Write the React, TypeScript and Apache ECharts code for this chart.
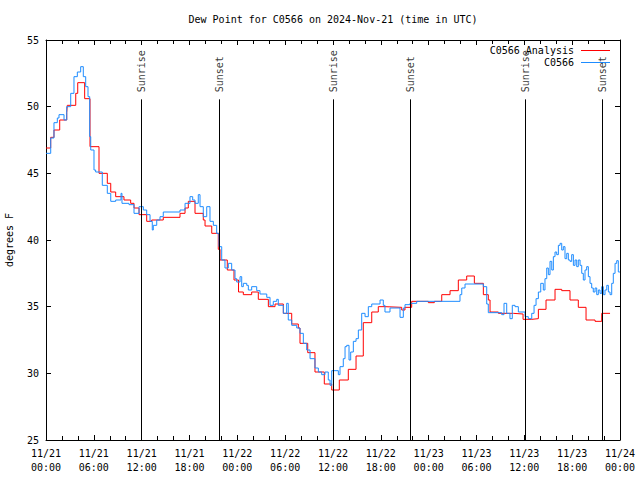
import React, { useEffect, useRef } from 'react';
import * as echarts from 'echarts';

// hours since 2024-11-21 00:00 UTC
const obsHours = [
  0, 0.59, 1.0, 1.42, 1.63, 2.26, 2.6, 3.1, 3.51, 3.93, 4.35, 4.68, 4.98, 5.27, 5.48, 5.61, 6.02, 6.23, 7.06, 7.69,
  8.12, 8.74, 9.41, 9.53, 10.41, 11.04, 11.67, 12.21, 12.63, 13.05, 13.33, 13.46, 13.89, 14.3, 14.71, 16.81, 17.44,
  18.06, 18.4, 18.69, 19.1, 19.32, 19.73, 20.16, 20.57, 20.99, 21.41, 21.7, 22.04, 22.45, 22.87, 23.29, 23.71, 23.92,
  24.34, 24.55, 24.75, 25.18, 25.38, 25.8, 26.43, 26.84, 27.69, 28.1, 28.51, 28.94, 29.14, 29.77, 30.19, 30.39, 30.82,
  31.45, 31.86, 32.28, 32.7, 33.12, 33.74, 34.16, 34.58, 35.0, 35.41, 35.63, 35.84, 36.67, 36.88, 37.29, 37.51, 37.72,
  38.01, 38.22, 38.55, 38.89, 39.18, 39.6, 40.02, 40.43, 40.86, 41.9, 42.31, 42.52, 43.15, 44.41, 44.82, 45.03, 45.66,
  46.5, 51.93, 52.15, 52.56, 54.86, 55.28, 55.48, 57.16, 57.45, 57.79, 58.2, 58.49, 58.83, 59.25, 60.09, 60.5, 60.93,
  61.22, 61.47, 61.76, 62.06, 62.38, 62.59, 62.81, 63.01, 63.22, 63.44, 63.64, 63.85, 64.06, 64.27, 64.48, 64.69,
  64.89, 65.1, 65.32, 65.52, 65.73, 65.94, 66.15, 66.36, 66.57, 66.77, 66.99, 67.2, 67.4, 67.61, 67.82, 68.03, 68.24,
  68.45, 68.65, 68.87, 69.08, 69.28, 69.49, 69.71, 69.91, 70.12, 70.34, 70.54, 70.75, 70.96, 71.16, 71.38, 71.59,
  71.79, 72.0,
];
const obsValues = [
  46.5, 47.65, 48.8, 49.15, 49.4, 49.0, 50.0, 51.0, 52.25, 52.6, 53.0, 52.25, 51.5, 50.75, 47.75, 46.75, 45.25, 45.1,
  44.1, 43.5, 42.9, 43.0, 43.5, 42.75, 42.65, 42.0, 42.5, 42.25, 41.9, 41.4, 40.75, 41.1, 41.5, 41.75, 42.1, 42.25,
  42.75, 43.25, 43.0, 42.75, 43.4, 42.5, 41.75, 42.5, 41.4, 41.1, 40.5, 39.5, 38.5, 37.9, 38.25, 37.75, 37.1, 36.85,
  37.25, 36.5, 36.75, 36.6, 36.25, 36.5, 36.2, 35.95, 35.7, 35.1, 35.4, 35.55, 35.1, 34.5, 35.25, 34.0, 33.6, 33.4,
  33.0, 32.25, 31.75, 31.1, 30.4, 30.1, 29.9, 30.1, 29.5, 29.1, 30.2, 29.9, 30.5, 31.1, 32.0, 32.1, 31.0, 31.6, 32.4,
  32.6, 33.25, 34.5, 34.25, 35.0, 35.2, 35.5, 35.1, 34.6, 34.9, 34.2, 34.9, 35.15, 35.25, 35.4, 35.9, 36.4, 36.7,
  36.5, 35.2, 34.55, 34.4, 35.25, 34.5, 34.1, 35.1, 35.0, 34.6, 34.25, 34.1, 34.5, 35.1, 35.6, 36.1, 36.75, 36.25,
  37.1, 37.9, 37.4, 38.4, 37.75, 38.75, 39.1, 38.9, 39.6, 39.75, 39.25, 39.5, 38.6, 39.0, 38.5, 38.4, 38.9, 38.1,
  38.5, 38.0, 38.5, 38.1, 37.5, 37.0, 37.75, 38.0, 37.25, 36.75, 36.4, 36.1, 36.4, 35.9, 36.25, 36.0, 36.5, 35.9,
  36.25, 36.6, 36.1, 35.9, 36.75, 37.5, 38.25, 38.45, 37.6, 37.6,
];

const anaHours = [
  0, 0.59, 1.0, 1.72, 2.6, 2.67, 3.73, 3.98, 4.85, 5.52, 6.65, 7.69, 8.12, 8.74, 9.78, 10.62, 11.04, 11.67, 12.63,
  13.26, 14.71, 16.81, 17.44, 17.85, 18.69, 19.73, 19.95, 20.79, 21.61, 21.83, 22.74, 23.58, 24.15, 24.75, 25.8,
  26.63, 27.89, 28.73, 29.77, 30.82, 31.65, 31.86, 32.83, 33.74, 34.91, 35.84, 36.79, 37.92, 38.89, 39.8, 40.86,
  41.68, 42.52, 44.62, 45.03, 45.87, 47.96, 48.71, 49.64, 50.68, 51.72, 52.77, 53.73, 54.86, 55.48, 55.7, 56.74,
  58.62, 59.84, 60.93, 61.76, 62.72, 63.85, 64.69, 65.73, 66.77, 67.74, 68.87, 69.71, 70.75,
];
const anaValues = [
  46.9, 47.7, 48.25, 49.0, 49.55, 50.1, 51.0, 51.8, 50.6, 47.0, 45.0, 44.25, 43.6, 43.25, 43.0, 42.75, 42.4, 41.9,
  41.4, 41.5, 41.7, 42.0, 42.4, 42.9, 42.0, 41.5, 41.05, 40.5, 39.3, 38.5, 37.75, 37.0, 36.1, 35.9, 36.1, 35.55, 35.0,
  35.2, 34.5, 33.7, 33.4, 32.25, 31.55, 30.1, 29.2, 28.75, 29.5, 30.3, 31.3, 33.8, 34.6, 35.0, 34.95, 34.75, 34.95,
  35.4, 35.3, 35.4, 35.9, 36.2, 37.0, 37.3, 36.75, 35.9, 35.5, 34.6, 34.5, 34.45, 34.05, 34.1, 34.8, 35.5, 36.3, 36.2,
  35.5, 34.95, 34.0, 33.9, 34.5, 34.5,
];

const sunHours = [11.92, 21.74, 36.02, 45.68, 60.1, 69.79];
const sunLabels = ['Sunrise', 'Sunset', 'Sunrise', 'Sunset', 'Sunrise', 'Sunset'];
const sunLineTop = 50.55;

const titleText = 'Dew Point for C0566 on 2024-Nov-21 (time in UTC)';
const yAxisTitle = 'degrees F';
const seriesNames = ['C0566 Analysis', 'C0566'];
const seriesColors = ['#ff0000', '#1e8cff'];

const FONT = 'DejaVu Sans Mono';

export default function App() {
  const ref = useRef<HTMLDivElement>(null);

  useEffect(() => {
    if (!ref.current) return;
    const chart = echarts.init(ref.current, undefined, { renderer: 'svg' });
    const pad = (n: number) => (n < 10 ? '0' + n : '' + n);
    const fmtX = (v: number) => {
      const day = 21 + Math.floor(v / 24);
      const hh = v % 24;
      return '11/' + day + '\n' + pad(hh) + ':00';
    };
    const axisCommonX = {
      type: 'value' as const,
      min: 0,
      max: 72,
      interval: 6,
      axisLine: { show: true, onZero: false, lineStyle: { color: '#000', width: 1 } },
      axisTick: { show: true, inside: true, length: 5, lineStyle: { color: '#000' } },
      minorTick: { show: true, splitNumber: 3, length: 4, lineStyle: { color: '#000' } },
      splitLine: { show: false },
    };
    const axisCommonY = {
      type: 'value' as const,
      min: 25,
      max: 55,
      interval: 5,
      axisLine: { show: true, onZero: false, lineStyle: { color: '#000', width: 1 } },
      axisTick: { show: true, inside: true, length: 5, lineStyle: { color: '#000' } },
      splitLine: { show: false },
    };
    const textStyle = { fontFamily: FONT, fontSize: 10, color: '#000' };

    chart.setOption({
      animation: false,
      backgroundColor: '#fff',
      textStyle: { fontFamily: FONT },
      grid: { left: 46, right: 20, top: 40, bottom: 40, containLabel: false, outerBoundsMode: 'none' },
      xAxis: [
        {
          ...axisCommonX,
          position: 'bottom',
          axisLabel: { ...textStyle, margin: 6, lineHeight: 14, formatter: fmtX },
        },
        { ...axisCommonX, position: 'top', axisLabel: { show: false } },
      ],
      yAxis: [
        {
          ...axisCommonY,
          position: 'left',
          name: yAxisTitle,
          nameLocation: 'middle',
          nameGap: 32,
          nameRotate: 90,
          nameTextStyle: { ...textStyle },
          axisLabel: { ...textStyle, margin: 7 },
        },
        { ...axisCommonY, position: 'right', axisLabel: { show: false } },
      ],
      graphic: [
        {
          type: 'text',
          x: 333,
          y: 19,
          style: { text: titleText, font: '10px ' + FONT, fill: '#000', textAlign: 'center', textVerticalAlign: 'middle' },
        },
        ...seriesNames.map((n, i) => ({
          type: 'group',
          children: [
            {
              type: 'text',
              x: 574,
              y: 50 + i * 12,
              style: { text: n, font: '10px ' + FONT, fill: '#000', textAlign: 'right', textVerticalAlign: 'middle' },
            },
            {
              type: 'line',
              shape: { x1: 581, y1: 50.5 + i * 12, x2: 610, y2: 50.5 + i * 12 },
              style: { stroke: seriesColors[i], lineWidth: 1 },
            },
          ],
        })),
      ],
      series: [
        {
          name: seriesNames[0],
          type: 'line',
          step: 'end',
          showSymbol: false,
          symbol: 'none',
          color: seriesColors[0],
          lineStyle: { width: 1, color: seriesColors[0] },
          data: anaHours.map((h, i) => [h, anaValues[i]]),
          z: 3,
        },
        {
          name: seriesNames[1],
          type: 'line',
          step: 'end',
          showSymbol: false,
          symbol: 'none',
          color: seriesColors[1],
          lineStyle: { width: 1, color: seriesColors[1] },
          data: obsHours.map((h, i) => [h, obsValues[i]]),
          z: 4,
        },
        {
          name: 'sun',
          type: 'line',
          data: [],
          markLine: {
            silent: true,
            symbol: 'none',
            animation: false,
            label: { show: false },
            lineStyle: { color: '#000', width: 1, type: 'solid' },
            data: sunHours.map((h) => [{ coord: [h, 25] }, { coord: [h, sunLineTop] }]),
          },
          z: 2,
        },
        {
          name: 'sunLabels',
          type: 'scatter',
          symbolSize: 0,
          data: sunHours.map((h, i) => ({ value: [h, sunLineTop], name: sunLabels[i] })),
          label: {
            show: true,
            position: 'top',
            distance: 7,
            rotate: 90,
            align: 'left',
            verticalAlign: 'middle',
            formatter: (p: any) => p.name,
            fontFamily: FONT,
            fontSize: 10,
            color: '#000',
          },
          z: 5,
        },
      ],
    });
    return () => chart.dispose();
  }, []);

  return <div ref={ref} style={{ position: 'fixed', left: 0, top: 0, width: 640, height: 480 }} />;
}
